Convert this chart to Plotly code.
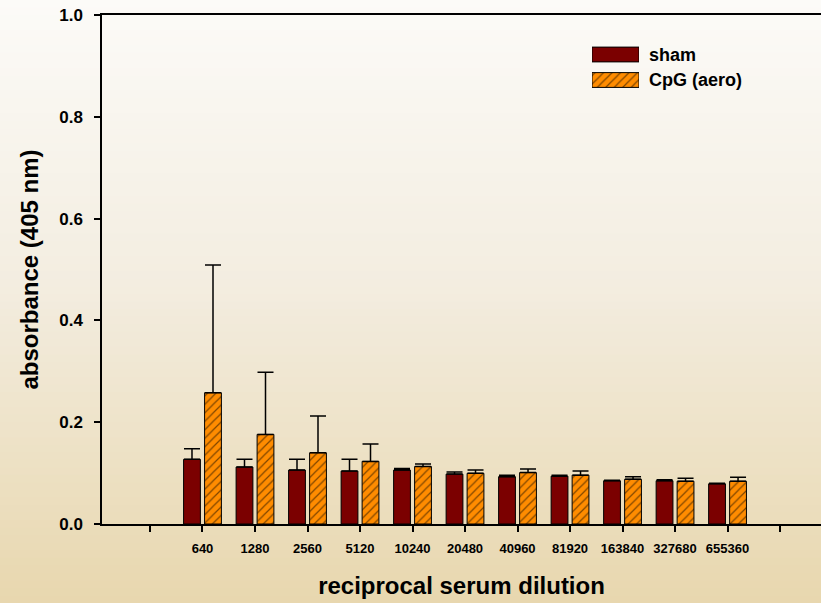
import plotly.graph_objects as go

# dilution groups (slots 0 and 12 are empty padding ticks)
dilutions = ["640", "1280", "2560", "5120", "10240", "20480",
             "40960", "81920", "163840", "327680", "655360"]
sham_mean = [0.127, 0.112, 0.106, 0.104, 0.106, 0.098, 0.093, 0.094, 0.085, 0.085, 0.079]
sham_err = [0.021, 0.015, 0.021, 0.023, 0.003, 0.004, 0.003, 0.002, 0.001, 0.002, 0.001]
cpg_mean = [0.258, 0.176, 0.140, 0.123, 0.113, 0.0995, 0.101, 0.096, 0.088, 0.084, 0.084]
cpg_err = [0.251, 0.122, 0.072, 0.034, 0.005, 0.0065, 0.007, 0.008, 0.005, 0.006, 0.008]

tick_pos = list(range(0, 13))
tick_text = [""] + dilutions + [""]
xpos = list(range(1, len(dilutions) + 1))

W, H = 821, 603
L, R, T, B = 102, 0, 15, 79
pw, ph = W - L - R, H - T - B

SHAM = "#7B0000"
CPG = "#FF8C00"
FONT = "Liberation Sans, Arial, sans-serif"

fig = go.Figure()

fig.add_trace(go.Bar(
    x=xpos, y=sham_mean, name="sham",
    width=0.32, offset=-0.36,
    marker=dict(color=SHAM, line=dict(color="black", width=1)),
    error_y=dict(type="data", symmetric=False, array=sham_err,
                 arrayminus=[0] * len(sham_err),
                 color="black", thickness=1.5, width=8),
    showlegend=False,
))
fig.add_trace(go.Bar(
    x=xpos, y=cpg_mean, name="CpG (aero)",
    width=0.32, offset=0.04,
    marker=dict(color=CPG, line=dict(color="black", width=1),
                pattern=dict(shape="/", fgcolor="black", bgcolor=CPG,
                             size=6, solidity=0.2)),
    error_y=dict(type="data", symmetric=False, array=cpg_err,
                 arrayminus=[0] * len(cpg_err),
                 color="black", thickness=1.5, width=8),
    showlegend=False,
))

# legend swatches drawn as bars on a small overlay axis
fig.add_trace(go.Bar(
    x=[1], y=[1], orientation="h", width=0.58,
    marker=dict(color=SHAM, line=dict(color="black", width=1)),
    xaxis="x2", yaxis="y2", showlegend=False, hoverinfo="skip",
))
fig.add_trace(go.Bar(
    x=[1], y=[0], orientation="h", width=0.58,
    marker=dict(color=CPG, line=dict(color="black", width=1),
                pattern=dict(shape="/", fgcolor="black", bgcolor=CPG,
                             size=6, solidity=0.2)),
    xaxis="x2", yaxis="y2", showlegend=False, hoverinfo="skip",
))


def px_x(p):
    return (p - L) / pw


def px_y(p):
    return (H - B - p) / ph


# background gradient (top near-white -> tan at bottom)
stops = [(0.0, (252, 251, 248)), (0.47, (243, 237, 224)), (1.0, (232, 215, 174))]
n = 80
for i in range(n):
    t = (i + 0.5) / n
    for (a, ca), (b, cb) in zip(stops[:-1], stops[1:]):
        if a <= t <= b:
            f = (t - a) / (b - a)
            c = tuple(round(ca[k] + (cb[k] - ca[k]) * f) for k in range(3))
            break
    y0 = H * i / n
    y1 = H * (i + 1) / n + 1
    fig.add_shape(type="rect", xref="paper", yref="paper", layer="below",
                  x0=px_x(-1), x1=px_x(W + 1), y0=px_y(y1), y1=px_y(y0),
                  line=dict(width=0), fillcolor="rgb(%d,%d,%d)" % c)

# legend labels
for txt, ypx in [("sham", 54.5), ("CpG (aero)", 80)]:
    fig.add_annotation(x=px_x(647), y=px_y(ypx), xref="paper", yref="paper",
                       text=txt, showarrow=False, xanchor="left", yanchor="middle",
                       font=dict(family=FONT, size=18, color="black", weight="bold"))

fig.update_layout(
    width=W, height=H,
    margin=dict(l=L, r=R, t=T, b=B),
    paper_bgcolor="rgba(0,0,0,0)",
    plot_bgcolor="rgba(0,0,0,0)",
    barmode="overlay",
    font=dict(family=FONT, color="black"),
    xaxis=dict(
        range=[-0.914, 12.78], tickmode="array", tickvals=tick_pos, ticktext=tick_text,
        showgrid=False, zeroline=False, showline=True, linecolor="black", linewidth=1.5,
        mirror=True, ticks="outside", ticklen=6, tickwidth=1.5, tickcolor="black",
        ticklabelstandoff=6,
        tickfont=dict(family=FONT, size=13, color="black", weight="bold"),
        title=dict(text="<b>reciprocal serum dilution</b>",
                   font=dict(family=FONT, size=24, color="black"), standoff=22),
    ),
    yaxis=dict(
        range=[0, 1.0], tickmode="array", tickvals=[0, 0.2, 0.4, 0.6, 0.8, 1.0],
        ticktext=["0.0", "0.2", "0.4", "0.6", "0.8", "1.0"],
        showgrid=False, zeroline=False, showline=True, linecolor="black", linewidth=1.5,
        ticks="outside", ticklen=6, tickwidth=1.5, tickcolor="black",
        ticklabelstandoff=8,
        tickfont=dict(family=FONT, size=17, color="black", weight="bold"),
        title=dict(text="<b>absorbance (405 nm)</b>",
                   font=dict(family=FONT, size=24, color="black"), standoff=14),
    ),
    xaxis2=dict(domain=[px_x(592), px_x(639)], range=[0, 1], visible=False,
                anchor="y2"),
    yaxis2=dict(domain=[px_y(92.75), px_y(41.75)], range=[-0.5, 1.5], visible=False,
                anchor="x2"),
)

fig.write_html("out.html", config={"displayModeBar": False},
               post_script="document.body.style.margin='0px';")
